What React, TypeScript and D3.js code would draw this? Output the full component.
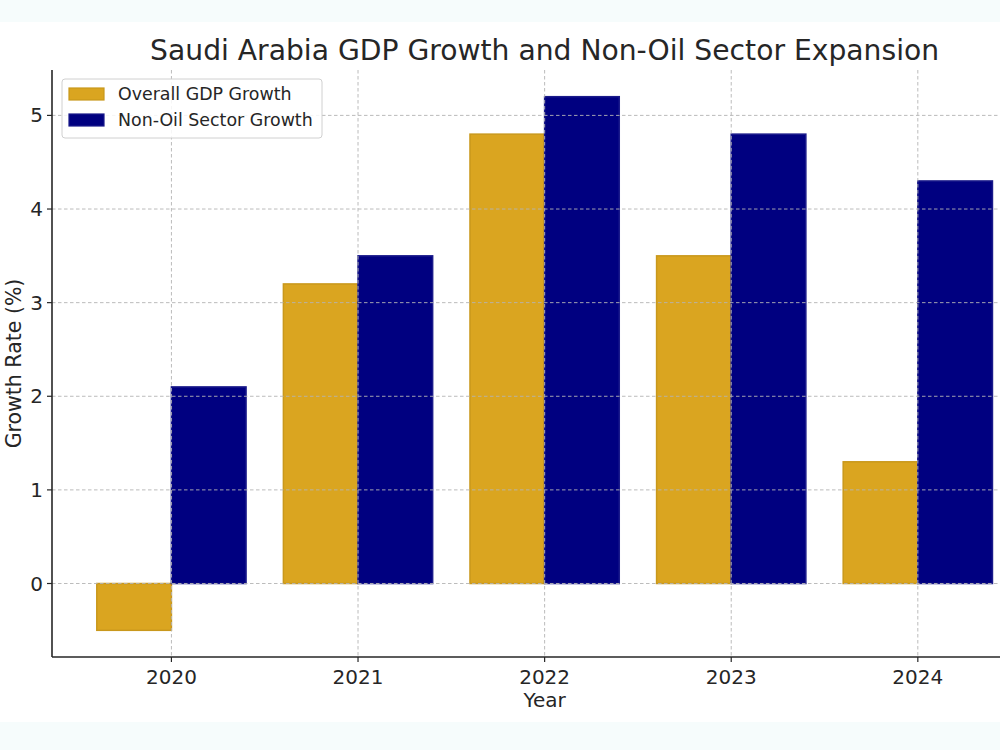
import React from "react";
import * as d3 from "d3";

const years = ["2020", "2021", "2022", "2023", "2024"];
const gdpGrowth = [-0.5, 3.2, 4.8, 3.5, 1.3];
const nonOilGrowth = [2.1, 3.5, 5.2, 4.8, 4.3];
const yTicks = [0, 1, 2, 3, 4, 5];
const seriesNames = ["Overall GDP Growth", "Non-Oil Sector Growth"];

const W = 1000;
const H = 750;
const FONT = "DejaVu Sans, sans-serif";
const TEXT = "#262626";

export default function App() {
  const left = 52;
  const top = 70;
  const bottom = 657;
  const barW = 0.4;

  // matplotlib-style 5% margins around the bar extents
  const xMin = -barW - 0.05 * (years.length - 1 + 2 * barW);
  const xMax = years.length - 1 + barW + 0.05 * (years.length - 1 + 2 * barW);
  const allVals = [...gdpGrowth, ...nonOilGrowth, 0];
  const vMin = d3.min(allVals)!;
  const vMax = d3.max(allVals)!;
  const pad = 0.05 * (vMax - vMin);

  const x = d3.scaleLinear().domain([xMin, xMax]).range([left, left + 186.6 * (xMax - xMin)]);
  const y = d3.scaleLinear().domain([vMin - pad, vMax + pad]).range([bottom, top]);
  const right = x(xMax);
  const cx = (left + right) / 2;

  const series = [
    { name: seriesNames[0], values: gdpGrowth, fill: "#daa520", stroke: "#c9981c", offset: -barW / 2 },
    { name: seriesNames[1], values: nonOilGrowth, fill: "#000080", stroke: "#1a1a8a", offset: barW / 2 },
  ];

  return (
    <div style={{ position: "fixed", left: 0, top: 0 }}>
      <svg width={W} height={H} style={{ display: "block" }}>
        <rect x={0} y={0} width={W} height={H} fill="#f6fcfc" />
        <rect x={0} y={22} width={W} height={700} fill="#ffffff" />

        {/* bars */}
        {series.map((s) =>
          s.values.map((v, i) => {
            const x0 = x(i + s.offset - barW / 2);
            const x1 = x(i + s.offset + barW / 2);
            const y0 = y(Math.max(0, v));
            const y1 = y(Math.min(0, v));
            return (
              <rect
                key={s.name + i}
                x={x0}
                y={y0}
                width={x1 - x0}
                height={y1 - y0}
                fill={s.fill}
                stroke={s.stroke}
                strokeWidth={1.5}
              />
            );
          })
        )}

        {/* grid drawn above bars */}
        <g stroke="#b5b5b5" strokeWidth={1} strokeDasharray="3.5,2.5" opacity={0.9}>
          {yTicks.map((t) => (
            <line key={"gy" + t} x1={left} x2={right} y1={y(t)} y2={y(t)} />
          ))}
          {years.map((yr, i) => (
            <line key={"gx" + yr} x1={x(i)} x2={x(i)} y1={top} y2={bottom} />
          ))}
        </g>

        {/* spines */}
        <line x1={left} x2={left} y1={top} y2={bottom} stroke={TEXT} strokeWidth={1.6} />
        <line x1={left} x2={right} y1={bottom} y2={bottom} stroke={TEXT} strokeWidth={1.6} />

        {/* y ticks */}
        {yTicks.map((t) => (
          <g key={"yt" + t}>
            <line x1={left - 5} x2={left} y1={y(t)} y2={y(t)} stroke={TEXT} strokeWidth={1.2} />
            <text
              x={left - 9}
              y={y(t)}
              textAnchor="end"
              dominantBaseline="central"
              fontFamily={FONT}
              fontSize={20}
              fill={TEXT}
            >
              {t}
            </text>
          </g>
        ))}

        {/* x ticks */}
        {years.map((yr, i) => (
          <g key={"xt" + yr}>
            <line x1={x(i)} x2={x(i)} y1={bottom} y2={bottom + 5} stroke={TEXT} strokeWidth={1.2} />
            <text x={x(i)} y={bottom + 27} textAnchor="middle" fontFamily={FONT} fontSize={20} fill={TEXT}>
              {yr}
            </text>
          </g>
        ))}

        {/* axis labels */}
        <text x={cx} y={707} textAnchor="middle" fontFamily={FONT} fontSize={20} fill={TEXT}>
          Year
        </text>
        <text
          transform={`translate(21,${(top + bottom) / 2}) rotate(-90)`}
          textAnchor="middle"
          fontFamily={FONT}
          fontSize={20.5}
          fill={TEXT}
        >
          Growth Rate (%)
        </text>

        {/* title */}
        <text x={cx} y={60} textAnchor="middle" fontFamily={FONT} fontSize={28.2} fill={TEXT}>
          Saudi Arabia GDP Growth and Non-Oil Sector Expansion
        </text>

        {/* legend */}
        <g>
          <rect x={62} y={79} width={260} height={59} rx={3} fill="#ffffff" fillOpacity={0.85} stroke="#d0d0d0" strokeWidth={1} />
          {series.map((s, k) => (
            <g key={"lg" + s.name}>
              <rect x={69} y={88 + k * 26} width={35} height={12} fill={s.fill} stroke={s.stroke} strokeWidth={1.2} />
              <text x={118} y={94 + k * 26} dominantBaseline="central" fontFamily={FONT} fontSize={17.4} fill={TEXT}>
                {s.name}
              </text>
            </g>
          ))}
        </g>
      </svg>
    </div>
  );
}
